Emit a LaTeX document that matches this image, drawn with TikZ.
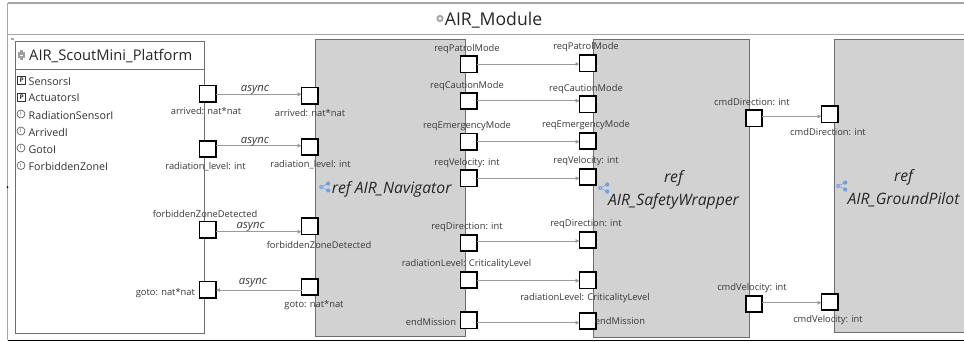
\documentclass[tikz,border=0pt]{standalone}
\usepackage{fontspec}
\setmainfont{Open Sans}
\usetikzlibrary{arrows.meta}
\definecolor{frame}{HTML}{A6A6A6}
\definecolor{edge}{HTML}{6E6E6E}
\definecolor{fillgrey}{HTML}{D2D2D2}
\definecolor{wire}{HTML}{9A9A9A}
\definecolor{ink}{HTML}{383838}
\definecolor{iconblue}{HTML}{6F9FE0}
\tikzset{
  portbox/.style={draw=black,line width=1.6pt,fill=white,minimum size=16.4pt,inner sep=0pt,outer sep=0pt},
  reflabel/.style={font=\fontsize{9.35}{11}\selectfont,text=ink,inner sep=0pt,yshift=-1pt},
  asynclabel/.style={font=\fontsize{11.3}{13}\selectfont\itshape,text=ink,inner sep=0pt,yshift=-1pt},
  itemlabel/.style={font=\fontsize{10.7}{12}\selectfont,text=black!80,inner sep=0pt,anchor=west,yshift=-1.2pt},
  bigref/.style={font=\fontsize{15.7}{23}\selectfont\itshape,text=black!85,inner sep=0pt,align=center},
  partbox/.style={draw=edge,line width=0.9pt,fill=fillgrey},
  wireline/.style={draw=wire,line width=0.9pt,-{Triangle[length=4pt,width=3.6pt]}},
  shareicon/.pic={
    \draw[iconblue,line width=0.5pt] (3.2,-3.5)--(-3.8,0)--(3.2,3.5);
    \fill[iconblue] (-3.8,0) circle (2pt) (3.2,-3.5) circle (2.1pt) (3.2,3.5) circle (2.1pt);
    \fill[white] (-3.8,0) circle (.7pt);
  },
  gearicon/.pic={
    \fill[black!38] (-3.4,-2.8) rectangle (3.4,2.8);
    \fill[black!38] (-1.8,-4.6) rectangle (1.8,4.6);
    \fill[white] (-1.5,-.5) rectangle (1.5,.5);
  },
  roundgear/.pic={
    \fill[black!35] (0,0) circle (3.6pt);
    \fill[white] (0,0) circle (1.7pt);
  },
  picon/.pic={
    \draw[black!80,line width=0.7pt] (-4,-4) rectangle (4,4);
    \node[font=\fontsize{6.5}{7}\selectfont\bfseries,text=black!80,inner sep=0pt] at (0,0) {P};
  },
  iicon/.pic={
    \draw[black!70,line width=0.6pt] (0,0) circle (4pt);
    \node[font=\fontsize{5.5}{6}\selectfont,text=black!70,inner sep=0pt] at (0,0) {I};
  },
}
\newcommand{\portat}[3]{\node[portbox] (#1) at (#2,#3) {};}
\newcommand{\lab}[4]{\node[reflabel] (#1) at (#2,#3) {#4};}
\newcommand{\wirelr}[3]{\draw[wireline] (#1.east |- {0,#3}) -- (#2.west |- {0,#3});}
\begin{document}
\begin{tikzpicture}[x=1pt,y=-1pt]
\useasboundingbox (0,0) rectangle (964,341);
\fill[white] (0,0) rectangle (964,341);
% outer frame
\draw[frame,line width=1.2pt] (7.5,3) -- (964,3);
\draw[frame,line width=1.2pt] (7.5,34.3) -- (964,34.3);
\draw[frame,line width=1pt] (7.5,3) -- (7.5,340);
\draw[black,line width=1pt] (7.5,340.2) -- (964,340.2);
\fill[black] (7.5,187) circle (1pt);
\node[font=\fontsize{17.6}{20}\selectfont,text=black!85,inner sep=0pt] (title) at (493.5,20.5) {AIR\_Module};
\pic at (440,18.5) {roundgear};
% platform
\node[draw=edge,line width=0.9pt,fill=white,minimum width=189pt,minimum height=292.5pt,inner sep=0pt,anchor=north west] (platform) at (14.5,40.5) {};
\draw[edge,line width=0.7pt] (14.5,69.5) -- (203.5,69.5);
\fill[frame] (10.8,38.3) rectangle (14.2,40);
\pic at (21.5,55) {gearicon};
\node[font=\fontsize{14.7}{17}\selectfont,text=black!85,inner sep=0pt,anchor=west] (platformname) at (29,56.5) {AIR\_ScoutMini\_Platform};
\pic at (21.7,80) {picon};
\pic at (21.7,97) {picon};
\pic at (21,114) {iicon};
\pic at (21,131) {iicon};
\pic at (21,148) {iicon};
\pic at (21,165.5) {iicon};
\node[itemlabel] (i1) at (28.5,80) {SensorsI};
\node[itemlabel] (i2) at (28.5,97) {ActuatorsI};
\node[itemlabel] (i3) at (28.5,114) {RadiationSensorI};
\node[itemlabel] (i4) at (28.5,131) {ArrivedI};
\node[itemlabel] (i5) at (28.5,148) {GotoI};
\node[itemlabel] (i6) at (28.5,165.5) {ForbiddenZoneI};
% parts
\node[partbox,minimum width=150pt,minimum height=297pt,inner sep=0pt,anchor=north west] (nav) at (314.7,39.2) {};
\node[partbox,minimum width=156.6pt,minimum height=298pt,inner sep=0pt,anchor=north west] (safety) at (592.7,39.2) {};
\fill[fillgrey] (834,39.2) rectangle (964,332.7);
\draw[edge,line width=0.9pt] (964,39.2) -- (834,39.2) -- (834,332.7) -- (964,332.7);
\node[bigref] (navname) at (391.7,189.5) {ref AIR\_Navigator};
\node[bigref] (safetyname) at (673.5,190) {ref\\AIR\_SafetyWrapper};
\node[bigref] (pilotname) at (903.5,188) {ref\\AIR\_GroundPilot};
\pic at (325,187) {shareicon};
\pic at (604,188) {shareicon};
\pic at (842,186) {shareicon};
% ports
\portat{pa}{207.7}{93.7}
\portat{pr}{207.7}{149}
\portat{pf}{207.7}{229.7}
\portat{pg}{207.7}{289.7}
\portat{na}{309.7}{95.7}
\portat{nr}{309.7}{147}
\portat{nf}{309.7}{226.3}
\portat{ng}{309.7}{287}
\portat{n1}{468.7}{64.3}
\portat{n2}{468.7}{101}
\portat{n3}{468.7}{141.7}
\portat{n4}{468.7}{178.3}
\portat{n5}{468.7}{243}
\portat{n6}{468.7}{280}
\portat{n7}{468.7}{320.3}
\portat{s1}{587.7}{63.3}
\portat{s2}{587.7}{104.3}
\portat{s3}{587.7}{141}
\portat{s4}{587.7}{177}
\portat{s5}{587.7}{240}
\portat{s6}{587.7}{280.3}
\portat{s7}{587.7}{321}
\portat{sd}{754}{118.3}
\portat{sv}{754}{304}
\portat{gd}{829.7}{114.3}
\portat{gv}{829.7}{302}
% connectors
\wirelr{pa}{na}{94.3}
\wirelr{pr}{nr}{145.7}
\wirelr{pf}{nf}{231.7}
\draw[wireline] (ng.west |- {0,290}) -- (pg.east |- {0,290});
\wirelr{n1}{s1}{64}
\wirelr{n2}{s2}{100.7}
\wirelr{n3}{s3}{141.7}
\wirelr{n4}{s4}{178.3}
\wirelr{n5}{s5}{241}
\wirelr{n6}{s6}{280.7}
\wirelr{n7}{s7}{322.7}
\wirelr{sd}{gd}{116.3}
\wirelr{sv}{gv}{302.7}
% async
\node[asynclabel] (as1) at (255,89) {async};
\node[asynclabel] (as2) at (255,140.7) {async};
\node[asynclabel] (as3) at (250.7,225.7) {async};
\node[asynclabel] (as4) at (253,281.7) {async};
% labels
\lab{l1}{206}{110.5}{arrived: nat*nat}
\lab{l2}{205.5}{166}{radiation\_level: int}
\lab{l3}{205}{213}{forbiddenZoneDetected}
\lab{l4}{165.4}{292}{goto: nat*nat}
\lab{l5}{310}{112}{arrived: nat*nat}
\lab{l6}{310.5}{163.5}{radiation\_level: int}
\lab{l7}{319}{244}{forbiddenZoneDetected}
\lab{l8}{314}{304.5}{goto: nat*nat}
\lab{l9}{467}{48}{reqPatrolMode}
\lab{l10}{467}{85}{reqCautionMode}
\lab{l11}{467}{125}{reqEmergencyMode}
\lab{l12}{467}{162}{reqVelocity: int}
\lab{l13}{467}{226}{reqDirection: int}
\lab{l14}{466.5}{263}{radiationLevel: CriticalityLevel}
\lab{l15}{431}{320.5}{endMission}
\lab{l16}{586}{46.5}{reqPatrolMode}
\lab{l17}{586}{88}{reqCautionMode}
\lab{l18}{586}{124.5}{reqEmergencyMode}
\lab{l19}{586}{160.5}{reqVelocity: int}
\lab{l20}{586}{223.5}{reqDirection: int}
\lab{l21}{585}{297.5}{radiationLevel: CriticalityLevel}
\lab{l22}{620}{319.5}{endMission}
\lab{l23}{752}{101.5}{cmdDirection: int}
\lab{l24}{828}{131}{cmdDirection: int}
\lab{l25}{752}{287}{cmdVelocity: int}
\lab{l26}{828}{319}{cmdVelocity: int}
\end{tikzpicture}
\end{document}
